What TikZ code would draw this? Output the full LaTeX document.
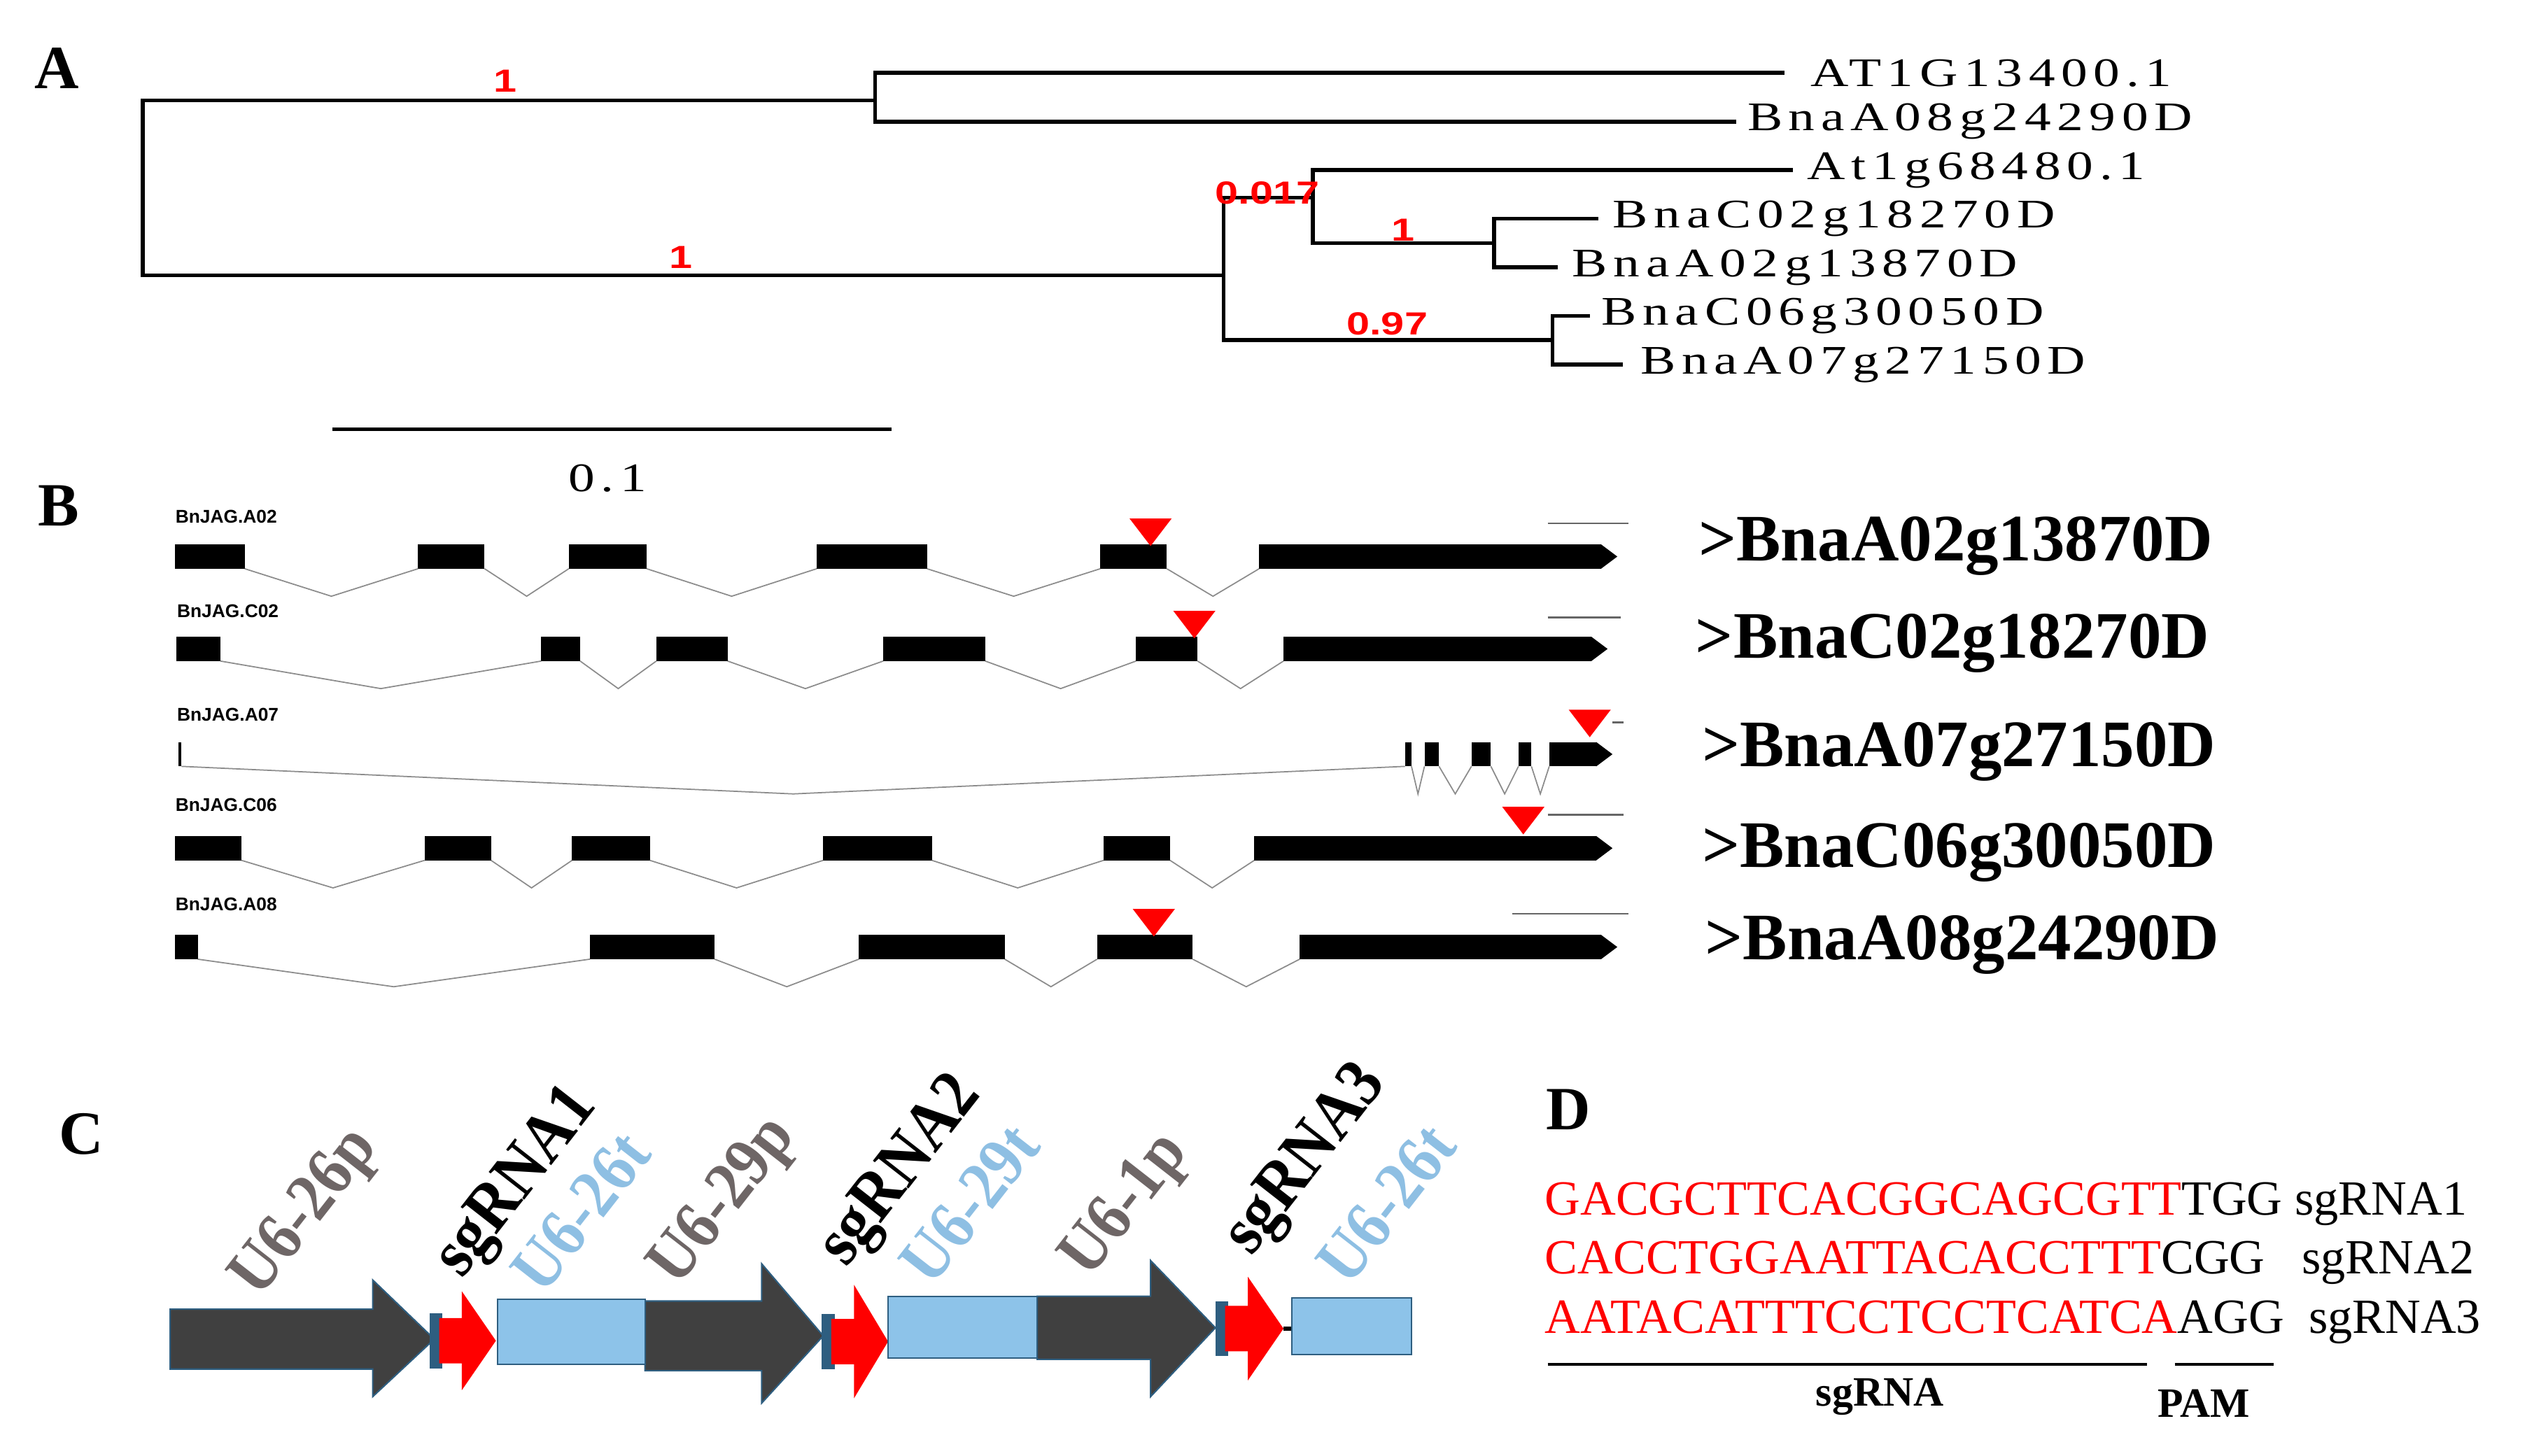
\documentclass[tikz,border=0pt]{standalone}
\usepackage{fontspec}
\setmainfont{Liberation Serif}
\newfontfamily\sansf{Liberation Sans}
\usepackage{xcolor}
\tikzset{>=latex}
\colorlet{promgray}{black!75}
\definecolor{promtext}{HTML}{6E6666}
\definecolor{termblue}{HTML}{8DC3E9}
\definecolor{termtext}{HTML}{8EBFE3}
\definecolor{edgeblue}{HTML}{2E5E80}
\tikzstyle{branch}=[line width=1.6pt,line cap=rect]
\tikzstyle{leaf}=[anchor=west,inner sep=0pt,font=\fontsize{16.5}{16.5}\selectfont\addfontfeature{FakeStretch=1.3,LetterSpace=15}]
\tikzstyle{support}=[red,inner sep=0pt,font=\sansf\bfseries\fontsize{13}{13}\selectfont\addfontfeature{FakeStretch=1.3}]
\tikzstyle{panel}=[inner sep=0pt,font=\bfseries\fontsize{25}{25}\selectfont]
\tikzstyle{intron}=[black!45,line width=0.5pt]
\tikzstyle{genename}=[anchor=west,inner sep=0pt,font=\sansf\bfseries\fontsize{7.5}{7.5}\selectfont]
\tikzstyle{locus}=[anchor=west,inner sep=0pt,font=\bfseries\fontsize{27}{27}\selectfont]
\tikzstyle{cut}=[red,fill=red]
\tikzstyle{element}=[rotate=52,anchor=base west,inner sep=0pt,font=\bfseries\fontsize{28}{28}\selectfont\addfontfeature{FakeStretch=0.9}]
\tikzstyle{seq}=[anchor=base west,inner sep=0pt,font=\fontsize{20}{20}\selectfont]
% one gene model: #1 = top of exons, #2 = exons s/e, #3 = end of last exon
\newcommand\generow[3]{{
  \foreach \s/\e [remember=\e as \pe (initially -1)] in {#2} {
    \fill (\s,#1) rectangle (\e,#1+15);
    \ifdim\pe pt>-1pt
      \draw[intron] (\pe,#1+15) -- ({(\pe+\s)/2},#1+32) -- (\s,#1+15);
    \fi
  }
  \fill (#3,#1) -- (#3+10,#1+7.5) -- (#3,#1+15) -- cycle;
}}
\begin{document}
\begin{tikzpicture}[x=0.02316cm,y=-0.02316cm]
  \useasboundingbox (0,0) rectangle (1568,898.5);

  % A: TREE
  \node[panel] (pA) at (35,42) {A};
  \draw[branch] (88,62) -- (88,170);
  \draw[branch] (88,62) -- (540,62);
  \draw[branch] (540,45) -- (540,75);
  \draw[branch] (540,45) -- (1100,45);
  \draw[branch] (540,75) -- (1070,75);
  \draw[branch] (88,170) -- (755,170);
  \draw[branch] (755,122) -- (755,210);
  \draw[branch] (755,122) -- (810,122);
  \draw[branch] (810,105) -- (810,150);
  \draw[branch] (810,105) -- (1105,105);
  \draw[branch] (810,150) -- (922,150);
  \draw[branch] (922,135) -- (922,165);
  \draw[branch] (922,135) -- (985,135);
  \draw[branch] (922,165) -- (960,165);
  \draw[branch] (755,210) -- (958,210);
  \draw[branch] (958,195) -- (958,225);
  \draw[branch] (958,195) -- (980,195);
  \draw[branch] (958,225) -- (1000,225);
  \node[leaf] (l1) at (1117,45) {AT1G13400.1};
  \node[leaf] (l2) at (1078,75) {BnaA08g24290D};
  \node[leaf] (l3) at (1115,105) {At1g68480.1};
  \node[leaf] (l4) at (995,135) {BnaC02g18270D};
  \node[leaf] (l5) at (970,165) {BnaA02g13870D};
  \node[leaf] (l6) at (988,195) {BnaC06g30050D};
  \node[leaf] (l7) at (1012,225) {BnaA07g27150D};
  \node[support] (s1) at (312,50) {1};
  \node[support] (s2) at (420,159) {1};
  \node[support] (s3) at (782,119) {0.017};
  \node[support] (s4) at (866,142) {1};
  \node[support] (s5) at (856,200) {0.97};
  \draw[line width=1.3pt] (205,265) -- (550,265);
  \node[leaf,anchor=center] (bar) at (375,295) {0.1};

  % B: GENE MODELS
  \node[panel] (pB) at (36,312) {B};
  \generow{336}{108/151,258/299,351/399,504/572,679/720,777/988}{988}
  \generow{393}{109/136,334/358,405/449,545/608,701/739,792/982}{982}
  \generow{458}{110/112,867/871,879/888,908/920,937/945,956/985}{985}
  \generow{516}{108/149,262/303,353/401,508/575,681/722,774/985}{985}
  \generow{577}{108/122,364/441,530/620,677/736,802/988}{988}
  \node[genename] (g1) at (108,319) {BnJAG.A02};
  \node[genename] (g2) at (109,377) {BnJAG.C02};
  \node[genename] (g3) at (109,441) {BnJAG.A07};
  \node[genename] (g4) at (108,497) {BnJAG.C06};
  \node[genename] (g5) at (108,558) {BnJAG.A08};
  \foreach \x/\y in {710/320,737/377,981/438,940/498,712/561}
    \fill[cut] (\x-13,\y) -- (\x+13,\y) -- (\x,\y+17) -- cycle;
  \foreach \a/\b/\y in {955/1005/323,955/1000/381,995/1002/446,955/1002/503,933/1005/564}
    \draw[black!60,line width=0.8pt] (\a,\y) -- (\b,\y);
  \node[locus] (b1) at (1048,337) {>BnaA02g13870D};
  \node[locus] (b2) at (1046,397) {>BnaC02g18270D};
  \node[locus] (b3) at (1050,464) {>BnaA07g27150D};
  \node[locus] (b4) at (1050,526) {>BnaC06g30050D};
  \node[locus] (b5) at (1052,583) {>BnaA08g24290D};

  % C: CONSTRUCT
  \node[panel] (pC) at (50,700) {C};
  \foreach \a/\h/\t/\yt/\yb/\ht/\hb in {105/230/268/808/845/790/862,398/470/508/803/846/780/866,640/710/750/800/839/778/862}
    \draw[fill=promgray,draw=edgeblue,line width=0.6pt]
      (\a,\yt) -- (\h,\yt) -- (\h,\ht) -- (\t,{(\yt+\yb)/2}) -- (\h,\hb) -- (\h,\yb) -- (\a,\yb) -- cycle;
  \foreach \a/\h/\t/\ht/\hb in {265/285/306/797/858,507/527/548/793/863,750/770/792/788/852} {
    \fill[edgeblue] (\a,{(\ht+\hb)/2-17}) rectangle (\a+8,{(\ht+\hb)/2+17});
    \fill[red] (\a+6,{(\ht+\hb)/2-14}) -- (\h,{(\ht+\hb)/2-14}) -- (\h,\ht) -- (\t,{(\ht+\hb)/2})
      -- (\h,\hb) -- (\h,{(\ht+\hb)/2+14}) -- (\a+6,{(\ht+\hb)/2+14}) -- cycle;
  }
  \draw[line width=1.5pt] (792,820) -- (797,820);
  \foreach \a/\b/\yt/\yb in {307/398/802/842,548/640/800/838,797/871/801/836}
    \draw[fill=termblue,draw=edgeblue,line width=0.6pt] (\a,\yt) rectangle (\b,\yb);
  \node[element,promtext] (e1) at (160,802) {U6-26p};
  \node[element] (e2) at (285,790) {sgRNA1};
  \node[element,termtext] (e3) at (335,800) {U6-26t};
  \node[element,promtext] (e4) at (418,795) {U6-29p};
  \node[element] (e5) at (522,783) {sgRNA2};
  \node[element,termtext] (e6) at (575,795) {U6-29t};
  \node[element,promtext] (e7) at (672,790) {U6-1p};
  \node[element] (e8) at (772,776) {sgRNA3};
  \node[element,termtext] (e9) at (832,795) {U6-26t};

  % D: TARGETS
  \node[panel] (pD) at (968,685) {D};
  \node[seq] (d1) at (953,750) {\textcolor{red}{GACGCTTCACGGCAGCGTT}TGG sgRNA1};
  \node[seq] (d2) at (953,786) {\textcolor{red}{CACCTGGAATTACACCTTT}CGG\ \ \ sgRNA2};
  \node[seq] (d3) at (953,823) {\textcolor{red}{AATACATTTCCTCCTCATCA}AGG\ \ sgRNA3};
  \draw[line width=1pt] (955,842) -- (1325,842);
  \draw[line width=1pt] (1342,842) -- (1403,842);
  \node[inner sep=0pt,font=\bfseries\fontsize{17}{17}\selectfont] (dsg) at (1160,862) {sgRNA};
  \node[inner sep=0pt,font=\bfseries\fontsize{17}{17}\selectfont] (dpam) at (1360,866) {PAM};
\end{tikzpicture}
\end{document}
